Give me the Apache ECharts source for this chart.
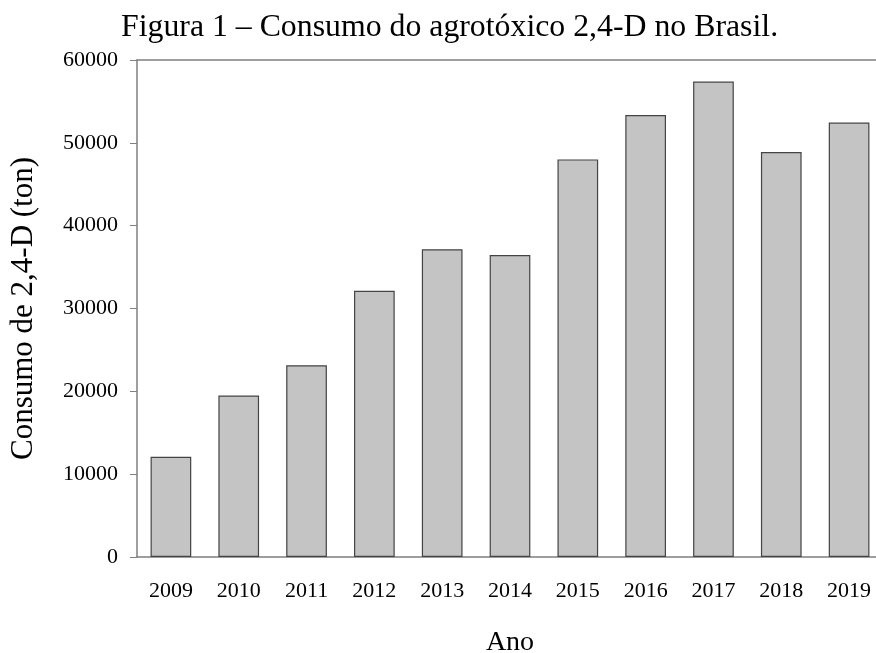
<!DOCTYPE html>
<html>
<head>
<meta charset="utf-8">
<script src="https://cdn.jsdelivr.net/npm/echarts@6/dist/echarts.min.js"></script>
<style>
    html, body { margin: 0; padding: 0; background: #fff; overflow: hidden; }
    #chart { width: 876px; height: 653px; }
</style>
</head>
<body>
<div id="chart"></div>
<script>
// anos e consumo (ton)
const anos = ['2009', '2010', '2011', '2012', '2013', '2014', '2015', '2016', '2017', '2018', '2019'];
const consumo = [12100, 19500, 23150, 32150, 37150, 36450, 48000, 53350, 57400, 48900, 52450];
const yTicks = [0, 10000, 20000, 30000, 40000, 50000, 60000];

const fonte = '"Liberation Serif", "Times New Roman", serif';
const cinza = '#7f7f7f';

const chart = echarts.init(document.getElementById('chart'));

chart.setOption({
    animation: false,
    title: {
        text: 'Figura 1 – Consumo do agrotóxico 2,4-D no Brasil.',
        left: 116,
        top: 7,
        textStyle: {
            fontFamily: fonte,
            fontSize: 31.8,
            fontWeight: 'normal',
            color: '#000'
        }
    },
    grid: {
        left: 137,
        width: 746,
        top: 60,
        bottom: 96,
        outerBoundsMode: 'none',
        containLabel: false
    },
    xAxis: [{
        type: 'category',
        data: anos,
        name: 'Ano',
        nameLocation: 'middle',
        nameGap: 72,
        nameTextStyle: { fontFamily: fonte, fontSize: 28, color: '#000' },
        axisLine: { lineStyle: { color: cinza, width: 1.5 } },
        axisTick: { alignWithLabel: true, length: 7, lineStyle: { color: cinza } },
        axisLabel: { fontFamily: fonte, fontSize: 22, color: '#000', margin: 23 }
    }, {
        // linha superior da moldura
        type: 'category',
        data: anos,
        position: 'top',
        axisLine: { lineStyle: { color: cinza, width: 1.5 } },
        axisTick: { show: false },
        axisLabel: { show: false }
    }],
    yAxis: {
        type: 'value',
        min: yTicks[0],
        max: yTicks[yTicks.length - 1],
        interval: 10000,
        name: 'Consumo de 2,4-D (ton)',
        nameLocation: 'middle',
        nameGap: 98,
        nameTextStyle: { fontFamily: fonte, fontSize: 31, color: '#000' },
        splitLine: { show: false },
        axisLine: { show: true, lineStyle: { color: cinza, width: 1.5 } },
        axisTick: { show: true, length: 7, lineStyle: { color: cinza } },
        axisLabel: {
            fontFamily: fonte, fontSize: 22, color: '#000', margin: 19,
            formatter: v => String(v)
        }
    },
    series: [{
        type: 'bar',
        data: consumo,
        barWidth: '60%',
        itemStyle: {
            color: '#c4c4c4',
            borderColor: '#444',
            borderWidth: 1.2
        }
    }]
});
</script>
</body>
</html>
